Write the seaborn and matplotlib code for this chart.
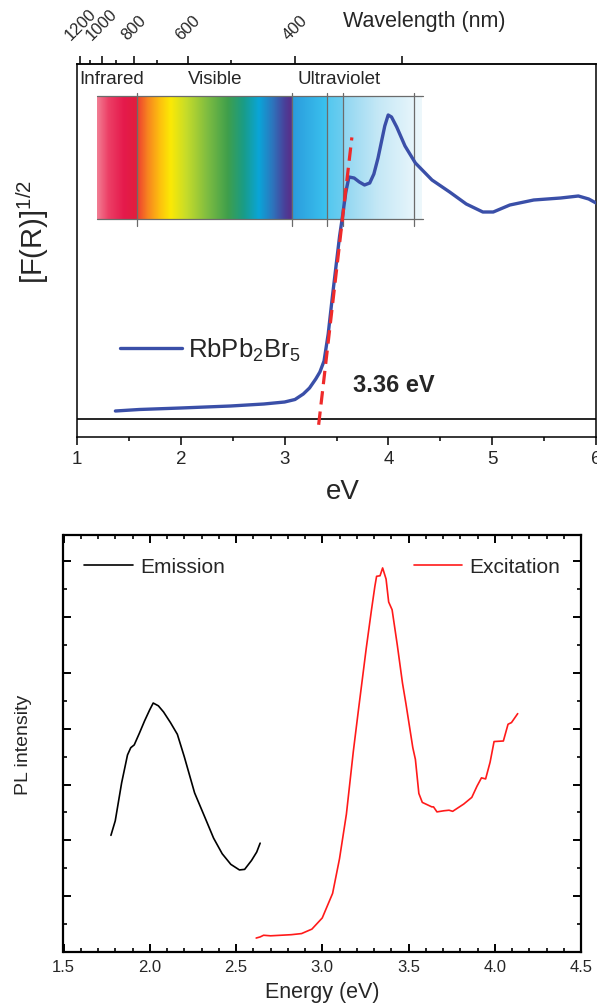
import numpy as np
import pandas as pd
import matplotlib
matplotlib.use("Agg")
import matplotlib.pyplot as plt
import matplotlib.colors as mcolors
import seaborn as sns

# --- diffuse reflectance, Kubelka-Munk [F(R)]^1/2 vs energy ---
abs_ev = [1.37, 1.6, 2.0, 2.48, 2.8, 3.0, 3.1, 3.18, 3.24, 3.30, 3.34, 3.38, 3.42,
          3.46, 3.50, 3.53, 3.557, 3.59, 3.62, 3.67, 3.72, 3.77, 3.82, 3.86, 3.90,
          3.965, 3.998, 4.03, 4.08, 4.16, 4.26, 4.42, 4.59, 4.75, 4.91, 5.01, 5.17,
          5.40, 5.66, 5.83, 5.93, 6.0]
abs_fr = [0.08, 0.095, 0.11, 0.13, 0.15, 0.17, 0.195, 0.25, 0.31, 0.40, 0.47, 0.58, 0.85,
          1.22, 1.57, 1.83, 2.02, 2.27, 2.42, 2.41, 2.37, 2.34, 2.36, 2.45, 2.61,
          2.93, 3.04, 3.02, 2.92, 2.73, 2.56, 2.39, 2.27, 2.15, 2.07, 2.07, 2.14,
          2.19, 2.21, 2.23, 2.20, 2.16]

# linear fit of the absorption edge
fit_ev = [3.328, 3.648]
fit_fr = [-0.058, 2.816]
gap_label = "3.36 eV"

# --- photoluminescence ---
em_ev = [1.775, 1.80, 1.837, 1.871, 1.89, 1.91, 1.94, 1.97, 2.00, 2.02, 2.05, 2.08,
         2.12, 2.16, 2.20, 2.26, 2.32, 2.37, 2.42, 2.47, 2.52, 2.55, 2.59, 2.62, 2.64]
em_int = [2.09, 2.35, 3.03, 3.53, 3.66, 3.71, 3.92, 4.14, 4.34, 4.46, 4.41, 4.30,
          4.11, 3.90, 3.50, 2.85, 2.41, 2.04, 1.76, 1.57, 1.47, 1.48, 1.64, 1.79, 1.95]

ex_ev = [2.617, 2.64, 2.66, 2.70, 2.76, 2.82, 2.88, 2.94, 3.00, 3.06, 3.10, 3.14, 3.18,
         3.21, 3.255, 3.285, 3.305, 3.315, 3.335, 3.35, 3.37, 3.385, 3.405, 3.435,
         3.465, 3.485, 3.525, 3.54, 3.56, 3.58, 3.635, 3.645, 3.665, 3.705, 3.735,
         3.756, 3.82, 3.867, 3.897, 3.923, 3.947, 3.973, 3.996, 4.05, 4.077, 4.097, 4.133]
ex_int = [0.25, 0.27, 0.30, 0.29, 0.30, 0.31, 0.33, 0.41, 0.61, 1.05, 1.67, 2.47, 3.59,
          4.34, 5.44, 6.12, 6.55, 6.73, 6.74, 6.88, 6.68, 6.27, 6.13, 5.50,
          4.82, 4.45, 3.66, 3.45, 2.84, 2.68, 2.60, 2.60, 2.51, 2.53, 2.54,
          2.52, 2.65, 2.77, 2.97, 3.12, 3.10, 3.40, 3.77, 3.78, 4.08, 4.11, 4.27]

# --- top wavelength axis ---
wl_major = [1200, 1000, 800, 600, 400, 300]
wl_labels = ["1200", "1000", "800", "600", "400", ""]
wl_minor = [1100, 900, 700, 500]

# --- spectrum strip (colour stops along energy) ---
strip_ev = [1.192, 1.30, 1.45, 1.577, 1.58, 1.68, 1.80, 1.90, 2.05, 2.25, 2.45, 2.60,
            2.75, 2.88, 3.00, 3.066, 3.068, 3.412, 3.414, 3.557, 3.559, 3.9, 4.317]
strip_col = ["#f27d93", "#ec3f66", "#e51a4c", "#e21e3c", "#ee4030", "#f7851f",
             "#fdc20e", "#fbe905", "#c6dc2a", "#7fbd41", "#3f9f4c", "#1a9c86",
             "#0aa5d8", "#2d76bd", "#4a3f99", "#5b2d86", "#2a9bdc", "#3bc3ef",
             "#55c8ef", "#6ccdef", "#8fd6f1", "#c5e8f6", "#eef8fc"]
strip_lines = [1.577, 3.067, 3.413, 3.558, 4.25]
region_names = ["Infrared", "Visible", "Ultraviolet"]
region_ev = [1.02, 2.07, 3.125]

sns.set_theme(style="ticks")
plt.rcParams["font.family"] = ["Liberation Sans", "DejaVu Sans"]
plt.rcParams["mathtext.fontset"] = "custom"
plt.rcParams["mathtext.rm"] = "Liberation Sans"
plt.rcParams["mathtext.it"] = "Liberation Sans:italic"
plt.rcParams["mathtext.bf"] = "Liberation Sans:bold"

fig = plt.figure(figsize=(5.97, 10.05), dpi=100)
W, H = 597, 1005
ax1 = fig.add_axes([77 / W, 1 - 437 / H, 519 / W, 373 / H])
ax2 = fig.add_axes([63.5 / W, 1 - 952 / H, 517.5 / W, 417 / H])

# ---------------- top panel ----------------
xs = np.linspace(strip_ev[0], strip_ev[-1], 600)
rgb = np.array([mcolors.to_rgb(c) for c in strip_col])
img = np.stack([np.interp(xs, strip_ev, rgb[:, k]) for k in range(3)], axis=-1)
img = np.repeat(img[np.newaxis, :, :], 4, axis=0)
ax1.imshow(img, extent=[strip_ev[0], strip_ev[-1], 2.00, 3.23], aspect="auto",
           origin="lower", zorder=1, interpolation="bilinear")
for e in strip_lines:
    ax1.plot([e, e], [1.93, 3.26], color="#6b6b6b", lw=0.9, zorder=2)
for yy in (2.00, 3.23):
    ax1.plot([strip_ev[0], 4.33], [yy, yy], color="#6b6b6b", lw=0.9, zorder=2)
for name, e in zip(region_names, region_ev):
    ax1.text(e, 3.40, name, fontsize=13.5, ha="left", va="center", zorder=4)

ax1.axhline(0, color="black", lw=1.2, zorder=2)
df_abs = pd.DataFrame({"eV": abs_ev, "FR": abs_fr})
sns.lineplot(data=df_abs, x="eV", y="FR", ax=ax1, color="#3a4fa8", lw=2.4,
             label="RbPb$_2$Br$_5$", zorder=3)
blue = ax1.lines[-1]
sns.lineplot(x=fit_ev, y=fit_fr, ax=ax1, color="#ee2a2a", lw=2.3, zorder=4)
ax1.lines[-1].set_dashes((4.2, 2.2))
ax1.text(3.663, 0.33, gap_label, fontsize=17, fontweight="bold", ha="left", va="center")

ax1.legend(handles=[blue], loc="center left", bbox_to_anchor=(0.083, 0.233),
           frameon=False, fontsize=18.5, handlelength=2.4, handletextpad=0.25,
           borderpad=0, borderaxespad=0)

ax1.set_xlim(1, 6)
ax1.set_ylim(-0.18, 3.55)
ax1.set_yticks([])
ax1.set_xticks([1, 2, 3, 4, 5, 6])
ax1.set_xticks([1.5, 2.5, 3.5, 4.5, 5.5], minor=True)
ax1.tick_params(axis="x", which="major", direction="out", length=6, width=1.1,
                labelsize=13.5, pad=4, color="black")
ax1.tick_params(axis="x", which="minor", direction="out", length=3.2, width=1.1,
                color="black")
ax1.set_xlabel("")
ax1.set_ylabel("")
for s in ax1.spines.values():
    s.set_linewidth(1.1)
    s.set_color("black")
    s.set_visible(True)

sec = ax1.secondary_xaxis("top", functions=(lambda e: 1240.0 / e, lambda w: 1240.0 / w))
sec.set_xticks(wl_major)
sec.set_xticklabels(wl_labels, rotation=45, ha="center")
sec.set_xticks(wl_minor, minor=True)
sec.tick_params(axis="x", which="major", direction="out", length=6, width=1.1,
                labelsize=12, pad=9, color="black")
sec.tick_params(axis="x", which="minor", direction="out", length=3.2, width=1.1,
                color="black")
sec.spines["top"].set_linewidth(1.1)

fig.text(424 / W, 1 - 21 / H, "Wavelength (nm)", fontsize=15.5, ha="center", va="center")
fig.text(33 / W, 1 - 232 / H, "[F(R)]$^{1/2}$", fontsize=21, rotation=90,
         ha="center", va="center")
fig.text(343 / W, 1 - 492 / H, "eV", fontsize=20, ha="center", va="center")

# ---------------- bottom panel ----------------
df_em = pd.DataFrame({"eV": em_ev, "I": em_int})
df_ex = pd.DataFrame({"eV": ex_ev, "I": ex_int})
sns.lineplot(data=df_em, x="eV", y="I", ax=ax2, color="black", lw=1.2, label="Emission")
l_em = ax2.lines[-1]
sns.lineplot(data=df_ex, x="eV", y="I", ax=ax2, color="#ff1a1a", lw=1.2, label="Excitation")
l_ex = ax2.lines[-1]

leg1 = ax2.legend(handles=[l_em], loc="center left", bbox_to_anchor=(0.0396, 0.923),
                  frameon=False, fontsize=15, handlelength=2.35, handletextpad=0.34,
                  borderpad=0, borderaxespad=0)
ax2.add_artist(leg1)
ax2.legend(handles=[l_ex], loc="center right", bbox_to_anchor=(0.9594, 0.923),
           frameon=False, fontsize=15, handlelength=2.3, handletextpad=0.34,
           borderpad=0, borderaxespad=0)

ax2.set_xlim(1.5, 4.5)
ax2.set_ylim(0, 7.47)
ax2.set_xticks([1.5, 2.0, 2.5, 3.0, 3.5, 4.0, 4.5])
ax2.set_xticklabels(["1.5", "2.0", "2.5", "3.0", "3.5", "4.0", "4.5"])
ax2.set_xticks(np.arange(1.6, 4.45, 0.1), minor=True)
ax2.set_yticks(range(1, 8))
ax2.set_yticks(np.arange(0.5, 7.4, 1.0), minor=True)
ax2.set_yticklabels([])
ax2.tick_params(which="major", direction="in", length=6, width=1.4,
                top=True, right=True, labelsize=12, color="black", pad=6)
ax2.tick_params(which="minor", direction="in", length=3.2, width=1.2,
                top=True, right=True, color="black")
ax2.set_xlabel("")
ax2.set_ylabel("")
for s in ax2.spines.values():
    s.set_linewidth(1.6)
    s.set_color("black")
    s.set_visible(True)

fig.text(322 / W, 1 - 992 / H, "Energy (eV)", fontsize=15.5, ha="center", va="center")
fig.text(24 / W, 1 - 745 / H, "PL intensity", fontsize=14, rotation=90,
         ha="center", va="center")

fig.savefig("out.png", dpi=100, facecolor="white")
